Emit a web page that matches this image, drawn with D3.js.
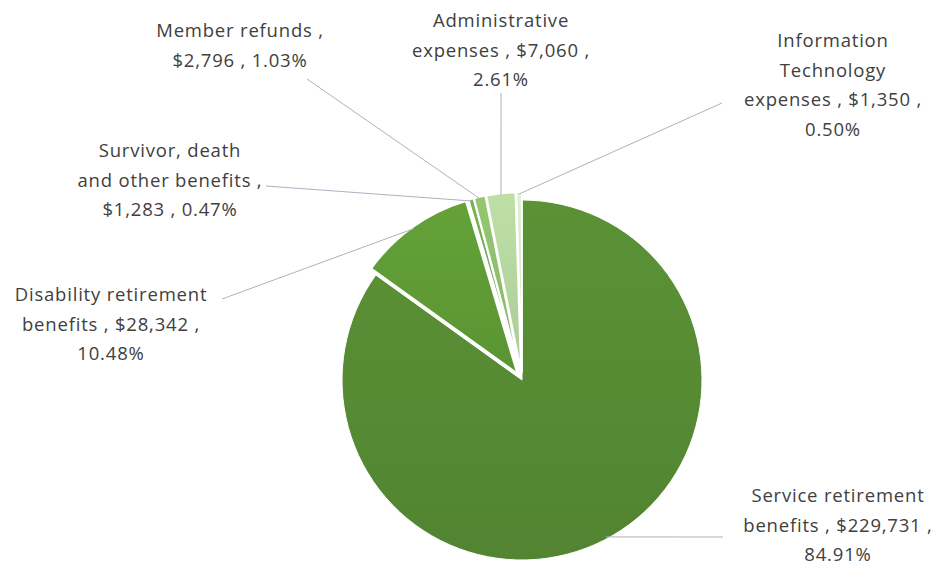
<!DOCTYPE html>
<html><head><meta charset="utf-8">
<script src="https://cdn.jsdelivr.net/npm/d3@7"></script>
<style>body{margin:0;background:#fff}svg{display:block}text{font-family:"Open Sans",Lato,sans-serif;fill:#404040}</style>
</head><body><svg id="c" width="943" height="565"></svg>
<script>
const categories = ["Service retirement benefits","Disability retirement benefits","Survivor, death and other benefits","Member refunds","Administrative expenses","Information Technology expenses"];
const values = [229731, 28342, 1283, 2796, 7060, 1350];
const percents = ["84.91%","10.48%","0.47%","1.03%","2.61%","0.50%"];
const labelLines = [
  ["Service retirement","benefits , $229,731 ,","84.91%"],
  ["Disability retirement","benefits , $28,342 ,","10.48%"],
  ["Survivor, death","and other benefits ,","$1,283 , 0.47%"],
  ["Member refunds ,","$2,796 , 1.03%"],
  ["Administrative","expenses , $7,060 ,","2.61%"],
  ["Information","Technology","expenses , $1,350 ,","0.50%"]
];
const colors = ["#568a33","#5f9a35","#74aa4e","#8dbd6c","#b4d49e","#d2e5c4"];

// layout (label anchor centre x, first line centre y, leader end point)
const layout = [
  {x:838,y:496,lx:723,ly:537},
  {x:111,y:295,lx:222,ly:299},
  {x:170,y:151,lx:266,ly:186},
  {x:240,y:31,lx:307,ly:79},
  {x:501,y:21,lx:501,ly:93},
  {x:833,y:41,lx:722,ly:103}
];
const cx=522, cy=380, R=180, explode=8, lineH=29.5;

const svg=d3.select("#c");
const pie=d3.pie().sort(null).value(d=>d)(values);
const arc=d3.arc().innerRadius(0).outerRadius(R);
const defs=svg.append("defs");
const g=svg.append("g").attr("transform",`translate(${cx},${cy})`);

pie.forEach((p,i)=>{
  const mid=(p.startAngle+p.endAngle)/2;
  const off=i===0?0:explode;
  const dx=Math.sin(mid)*off, dy=-Math.cos(mid)*off;
  const gid="gr"+i;
  const base=d3.color(colors[i]);
  const lg=defs.append("linearGradient").attr("id",gid).attr("x1",0).attr("y1",0).attr("x2",0).attr("y2",1);
  lg.append("stop").attr("offset",0).attr("stop-color",base.brighter(0.15));
  lg.append("stop").attr("offset",1).attr("stop-color",base.darker(0.12));
  g.append("path").attr("d",arc(p)).attr("transform",`translate(${dx},${dy})`)
    .attr("fill",`url(#${gid})`).attr("stroke","#fff").attr("stroke-width",i===0?1:2).attr("stroke-linejoin","round");
  // leader
  const L=layout[i];
  const ang = i===0 ? 2.65 : mid;
  const rr = R+off-2;
  const px=cx+Math.sin(ang)*rr, py=cy-Math.cos(ang)*rr;
  svg.append("line").attr("x1",L.lx).attr("y1",L.ly).attr("x2",px).attr("y2",py)
    .attr("stroke","#aab3c2").attr("stroke-width",1);
});

labelLines.forEach((lines,i)=>{
  const L=layout[i];
  const t=svg.append("text").attr("text-anchor","middle").attr("font-size",18.5).attr("letter-spacing","0.8px");
  lines.forEach((s,j)=>t.append("tspan").attr("x",L.x).attr("y",L.y+j*lineH).attr("dy","0.35em").text(s));
});
</script></body></html>
